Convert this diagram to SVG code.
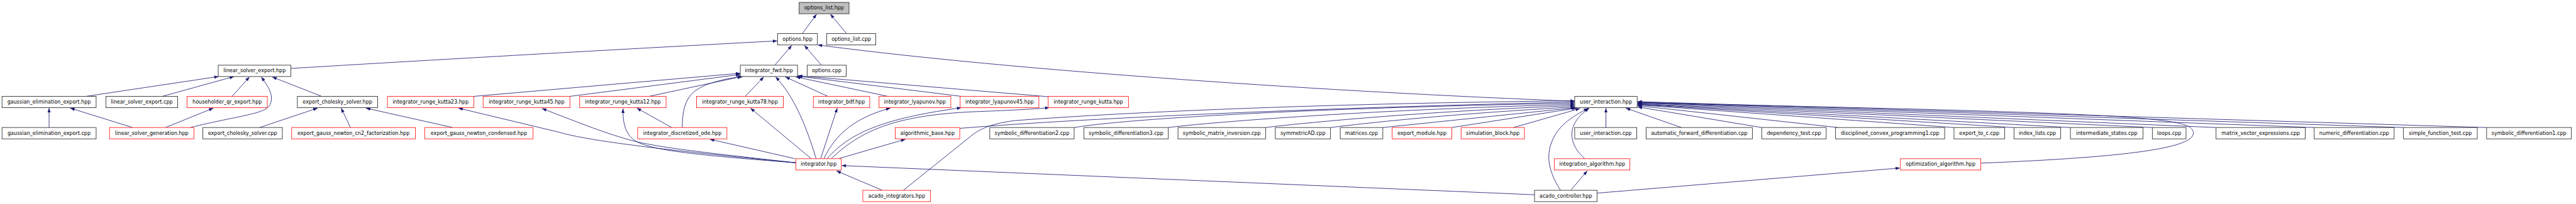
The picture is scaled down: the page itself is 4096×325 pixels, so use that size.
<svg xmlns="http://www.w3.org/2000/svg" width="4096" height="325" viewBox="0 0 4096 325">
<defs>
<style>
.nd rect{fill:#ffffff;stroke:#333333;stroke-width:1.4}
.rd rect{fill:#ffffff;stroke:#ff2020;stroke-width:1.4}
.rt rect{fill:#bfbfbf;stroke:#333333;stroke-width:1.4}
text{font-family:"DejaVu Sans","Liberation Sans",sans-serif;font-size:12.5px;fill:#000000;text-anchor:middle}
#edges path{fill:none;stroke:#191970;stroke-width:1.3;marker-end:url(#ah)}
</style>
<marker id="ah" markerUnits="userSpaceOnUse" markerWidth="11" markerHeight="8" viewBox="0 0 11 8" refX="11" refY="4" orient="auto">
<path d="M0,0 L11,4 L0,8 z" fill="#191970"/>
</marker>
</defs>
<rect x="0" y="0" width="4096" height="325" fill="#ffffff"/>
<g transform="scale(0.645)">
<g id="edges">
<path d="M1978,83 L2013,35"/>
<path d="M2087,83 L2047,35"/>
<path d="M1910,161 L1952,112"/>
<path d="M2025,161 L1983,112"/>
<path d="M717,169 C1200,140 1600,118 1916,101"/>
<path d="M3882,250 C3300,228 2500,175 2016,111"/>
<path d="M212,238 L539,189"/>
<path d="M400,238 L577,189"/>
<path d="M572,238 L615,190"/>
<path d="M469,315 C590,285 655,282 666,258 C676,234 660,212 644,190"/>
<path d="M793,238 L671,190"/>
<path d="M121,315 L121,267"/>
<path d="M327,315 L173,267"/>
<path d="M408,315 L526,267"/>
<path d="M640,315 L783,267"/>
<path d="M864,315 L841,267"/>
<path d="M1116,315 L902,267"/>
<path d="M1168,238 L1825,181"/>
<path d="M1405,238 L1825,184"/>
<path d="M1600,238 L1829,189"/>
<path d="M1682,315 C1682,250 1700,225 1745,208 C1780,196 1810,191 1832,189"/>
<path d="M1837,238 L1883,190"/>
<path d="M2012,392 C1990,320 1960,240 1912,190"/>
<path d="M2041,238 L1936,190"/>
<path d="M2189,238 L1962,190"/>
<path d="M2370,238 L1966,188"/>
<path d="M2586,239 L1967,187"/>
<path d="M2000,392 L1850,267"/>
<path d="M2023,392 L2064,267"/>
<path d="M2031,392 C2060,330 2110,290 2195,267"/>
<path d="M2039,392 C2100,320 2200,290 2370,266"/>
<path d="M2049,392 C2120,325 2200,285 2400,276 C2480,273 2540,270 2587,266"/>
<path d="M2067,392 L2232,344"/>
<path d="M1960,392 L1750,344"/>
<path d="M1962,402 C1650,372 1450,348 1380,327 L1130,267"/>
<path d="M1962,402 C1750,378 1620,365 1550,345 C1480,325 1420,300 1336,268"/>
<path d="M1962,402 C1700,382 1600,370 1565,347 C1540,330 1535,300 1536,268"/>
<path d="M1656,315 L1570,267"/>
<path d="M2175,470 L2062,422"/>
<path d="M3783,481 L2075,409"/>
<path d="M3873,469 L3913,422"/>
<path d="M3847,470 C3815,420 3810,380 3830,340 C3850,300 3890,282 3915,267"/>
<path d="M3907,392 C3870,360 3855,310 3918,267"/>
<path d="M4883,403 C5200,390 5410,370 5407,328 C5405,290 5300,280 4037,254"/>
<path d="M3937,477 L4684,415"/>
<path d="M2227,470 L2395,335 C2420,315 2450,305 2500,298 C2800,275 3300,255 3882,249"/>
<path d="M2366,317 C2700,290 3300,265 3882,252"/>
<path d="M2648,315 C2800,290 3300,265 3882,255"/>
<path d="M2880,315 C3000,300 3400,270 3882,258"/>
<path d="M3120,315 C3200,305 3500,275 3882,261"/>
<path d="M3280,315 C3400,300 3600,280 3883,264"/>
<path d="M3409,315 L3883,266"/>
<path d="M3579,315 L3886,267"/>
<path d="M3731,315 L3895,268"/>
<path d="M3959,315 L3959,267"/>
<path d="M4145,315 L4008,267"/>
<path d="M4343,315 L4037,264"/>
<path d="M4531,315 L4037,261"/>
<path d="M4817,315 L4037,259"/>
<path d="M4965,315 L4037,258"/>
<path d="M5104,315 L4037,257"/>
<path d="M5306,315 L4037,256"/>
<path d="M5463,315 L4037,254"/>
<path d="M5705,315 L4037,253"/>
<path d="M5925,315 L4037,252"/>
<path d="M6130,315 L4037,251"/>
</g>
<g id="n_options_list_hpp" class="rt"><rect x="1970" y="6" width="123" height="28"/><text x="2031.5" y="24">options_list.hpp</text></g>
<g id="n_options_hpp" class="nd"><rect x="1917" y="83" width="98" height="28"/><text x="1966" y="101">options.hpp</text></g>
<g id="n_options_list_cpp" class="nd"><rect x="2038" y="83" width="121" height="28"/><text x="2098.5" y="101">options_list.cpp</text></g>
<g id="n_linear_solver_export_hpp" class="nd"><rect x="538" y="161" width="179" height="28"/><text x="627.5" y="179">linear_solver_export.hpp</text></g>
<g id="n_integrator_fwd_hpp" class="nd"><rect x="1825" y="161" width="141" height="28"/><text x="1895.5" y="179">integrator_fwd.hpp</text></g>
<g id="n_options_cpp" class="nd"><rect x="1990" y="161" width="96" height="28"/><text x="2038" y="179">options.cpp</text></g>
<g id="n_gaussian_elimination_export_hpp" class="nd"><rect x="5" y="238" width="232" height="28"/><text x="121" y="256">gaussian_elimination_export.hpp</text></g>
<g id="n_linear_solver_export_cpp" class="nd"><rect x="261" y="238" width="177" height="28"/><text x="349.5" y="256">linear_solver_export.cpp</text></g>
<g id="n_householder_qr_export_hpp" class="rd"><rect x="461" y="238" width="198" height="28"/><text x="560" y="256">householder_qr_export.hpp</text></g>
<g id="n_export_cholesky_solver_hpp" class="nd"><rect x="733" y="238" width="198" height="28"/><text x="832" y="256">export_cholesky_solver.hpp</text></g>
<g id="n_integrator_runge_kutta23_hpp" class="rd"><rect x="955" y="238" width="213" height="28"/><text x="1061.5" y="256">integrator_runge_kutta23.hpp</text></g>
<g id="n_integrator_runge_kutta45_hpp" class="rd"><rect x="1191" y="238" width="214" height="28"/><text x="1298" y="256">integrator_runge_kutta45.hpp</text></g>
<g id="n_integrator_runge_kutta12_hpp" class="rd"><rect x="1429" y="238" width="213" height="28"/><text x="1535.5" y="256">integrator_runge_kutta12.hpp</text></g>
<g id="n_integrator_runge_kutta78_hpp" class="rd"><rect x="1717" y="238" width="214" height="28"/><text x="1824" y="256">integrator_runge_kutta78.hpp</text></g>
<g id="n_integrator_bdf_hpp" class="rd"><rect x="2005" y="238" width="139" height="28"/><text x="2074.5" y="256">integrator_bdf.hpp</text></g>
<g id="n_integrator_lyapunov_hpp" class="rd"><rect x="2167" y="238" width="177" height="28"/><text x="2255.5" y="256">integrator_lyapunov.hpp</text></g>
<g id="n_integrator_lyapunov45_hpp" class="rd"><rect x="2367" y="238" width="194" height="28"/><text x="2464" y="256">integrator_lyapunov45.hpp</text></g>
<g id="n_integrator_runge_kutta_hpp" class="rd"><rect x="2584" y="238" width="198" height="28"/><text x="2683" y="256">integrator_runge_kutta.hpp</text></g>
<g id="n_user_interaction_hpp" class="nd"><rect x="3882" y="238" width="154" height="28"/><text x="3959" y="256">user_interaction.hpp</text></g>
<g id="n_gaussian_elimination_export_cpp" class="nd"><rect x="5" y="315" width="232" height="28"/><text x="121" y="333">gaussian_elimination_export.cpp</text></g>
<g id="n_linear_solver_generation_hpp" class="rd"><rect x="270" y="315" width="208" height="28"/><text x="374" y="333">linear_solver_generation.hpp</text></g>
<g id="n_export_cholesky_solver_cpp" class="nd"><rect x="500" y="315" width="196" height="28"/><text x="598" y="333">export_cholesky_solver.cpp</text></g>
<g id="n_export_gauss_newton_cn2_factorization_hpp" class="rd"><rect x="719" y="315" width="305" height="28"/><text x="871.5" y="333">export_gauss_newton_cn2_factorization.hpp</text></g>
<g id="n_export_gauss_newton_condensed_hpp" class="rd"><rect x="1047" y="315" width="267" height="28"/><text x="1180.5" y="333">export_gauss_newton_condensed.hpp</text></g>
<g id="n_integrator_discretized_ode_hpp" class="rd"><rect x="1572" y="315" width="220" height="28"/><text x="1682" y="333">integrator_discretized_ode.hpp</text></g>
<g id="n_algorithmic_base_hpp" class="rd"><rect x="2207" y="315" width="159" height="28"/><text x="2286.5" y="333">algorithmic_base.hpp</text></g>
<g id="n_symbolic_differentiation2_cpp" class="nd"><rect x="2440" y="315" width="208" height="28"/><text x="2544" y="333">symbolic_differentiation2.cpp</text></g>
<g id="n_symbolic_differentiation3_cpp" class="nd"><rect x="2672" y="315" width="208" height="28"/><text x="2776" y="333">symbolic_differentiation3.cpp</text></g>
<g id="n_symbolic_matrix_inversion_cpp" class="nd"><rect x="2904" y="315" width="216" height="28"/><text x="3012" y="333">symbolic_matrix_inversion.cpp</text></g>
<g id="n_symmetricAD_cpp" class="nd"><rect x="3144" y="315" width="136" height="28"/><text x="3212" y="333">symmetricAD.cpp</text></g>
<g id="n_matrices_cpp" class="nd"><rect x="3304" y="315" width="105" height="28"/><text x="3356.5" y="333">matrices.cpp</text></g>
<g id="n_export_module_hpp" class="rd"><rect x="3432" y="315" width="147" height="28"/><text x="3505.5" y="333">export_module.hpp</text></g>
<g id="n_simulation_block_hpp" class="rd"><rect x="3602" y="315" width="156" height="28"/><text x="3680" y="333">simulation_block.hpp</text></g>
<g id="n_user_interaction_cpp" class="nd"><rect x="3882" y="315" width="153" height="28"/><text x="3958.5" y="333">user_interaction.cpp</text></g>
<g id="n_automatic_forward_differentiation_cpp" class="nd"><rect x="4058" y="315" width="262" height="28"/><text x="4189" y="333">automatic_forward_differentiation.cpp</text></g>
<g id="n_dependency_test_cpp" class="nd"><rect x="4343" y="315" width="159" height="28"/><text x="4422.5" y="333">dependency_test.cpp</text></g>
<g id="n_disciplined_convex_programming1_cpp" class="nd"><rect x="4525" y="315" width="269" height="28"/><text x="4659.5" y="333">disciplined_convex_programming1.cpp</text></g>
<g id="n_export_to_c_cpp" class="nd"><rect x="4817" y="315" width="125" height="28"/><text x="4879.5" y="333">export_to_c.cpp</text></g>
<g id="n_index_lists_cpp" class="nd"><rect x="4965" y="315" width="115" height="28"/><text x="5022.5" y="333">index_lists.cpp</text></g>
<g id="n_intermediate_states_cpp" class="nd"><rect x="5104" y="315" width="179" height="28"/><text x="5193.5" y="333">intermediate_states.cpp</text></g>
<g id="n_loops_cpp" class="nd"><rect x="5306" y="315" width="83" height="28"/><text x="5347.5" y="333">loops.cpp</text></g>
<g id="n_matrix_vector_expressions_cpp" class="nd"><rect x="5463" y="315" width="220" height="28"/><text x="5573" y="333">matrix_vector_expressions.cpp</text></g>
<g id="n_numeric_differentiation_cpp" class="nd"><rect x="5705" y="315" width="197" height="28"/><text x="5803.5" y="333">numeric_differentiation.cpp</text></g>
<g id="n_simple_function_test_cpp" class="nd"><rect x="5925" y="315" width="182" height="28"/><text x="6016" y="333">simple_function_test.cpp</text></g>
<g id="n_symbolic_differentiation1_cpp" class="nd"><rect x="6130" y="315" width="209" height="28"/><text x="6234.5" y="333">symbolic_differentiation1.cpp</text></g>
<g id="n_integrator_hpp" class="rd"><rect x="1962" y="392" width="112" height="28"/><text x="2018" y="410">integrator.hpp</text></g>
<g id="n_integration_algorithm_hpp" class="rd"><rect x="3832" y="392" width="186" height="28"/><text x="3925" y="410">integration_algorithm.hpp</text></g>
<g id="n_optimization_algorithm_hpp" class="rd"><rect x="4685" y="392" width="198" height="28"/><text x="4784" y="410">optimization_algorithm.hpp</text></g>
<g id="n_acado_integrators_hpp" class="rd"><rect x="2127" y="470" width="167" height="28"/><text x="2210.5" y="488">acado_integrators.hpp</text></g>
<g id="n_acado_controller_hpp" class="nd"><rect x="3783" y="470" width="154" height="28"/><text x="3860" y="488">acado_controller.hpp</text></g>
</g>
</svg>
